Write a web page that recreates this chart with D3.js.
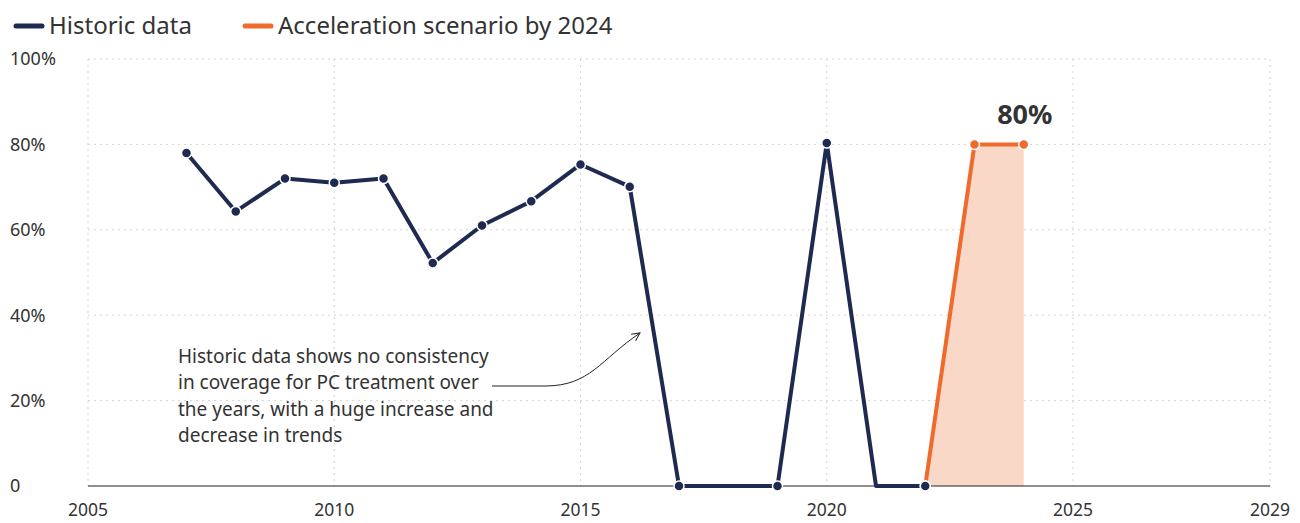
<!DOCTYPE html>
<html>
<head>
<meta charset="utf-8">
<script src="https://cdn.jsdelivr.net/npm/d3@7"></script>
<style>
  body { margin: 0; background: #fff; }
  text { font-family: "Source Sans Pro", "Noto Sans", sans-serif; fill: #333; }
</style>
</head>
<body>
<svg id="chart" width="1300" height="523"></svg>
<script>
// data
const histYears = [2007, 2008, 2009, 2010, 2011, 2012, 2013, 2014, 2015, 2016, 2017, 2019, 2020, 2021, 2022];
const histValues = [78, 64.3, 72, 71, 72, 52.2, 61, 66.7, 75.3, 70.1, 0, 0, 80.3, 0, 0];
const histDotYears = [2007, 2008, 2009, 2010, 2011, 2012, 2013, 2014, 2015, 2016, 2017, 2019, 2020, 2022];
const scenYears = [2022, 2023, 2024];
const scenValues = [0, 80, 80];
const xTicks = [2005, 2010, 2015, 2020, 2025, 2029];
const yTicks = [0, 20, 40, 60, 80, 100];
const noteLines = ["Historic data shows no consistency", "in coverage for PC treatment over", "the years, with a huge increase and", "decrease in trends"];

const navy = "#1f2a50", orange = "#f06a2b", fill = "#fad8c8";

const svg = d3.select("#chart");
const x = d3.scaleLinear().domain([2005, 2029]).range([88, 1270]);
const y = d3.scaleLinear().domain([0, 100]).range([486, 59]);

// grid
const grid = svg.append("g");
grid.selectAll(".hg").data(yTicks.filter(d => d > 0)).enter().append("line")
    .attr("x1", x(2005)).attr("x2", x(2029))
    .attr("y1", d => y(d)).attr("y2", d => y(d))
    .attr("stroke", "#d4d4d4").attr("stroke-dasharray", "2,4");
grid.selectAll(".vg").data(xTicks).enter().append("line")
    .attr("x1", d => x(d)).attr("x2", d => x(d))
    .attr("y1", y(100)).attr("y2", y(0))
    .attr("stroke", "#d4d4d4").attr("stroke-dasharray", "2,4");

// y labels
svg.selectAll(".yl").data(yTicks).enter().append("text")
    .attr("x", 10).attr("y", d => y(d)).attr("dy", "0.35em")
    .style("font-size", "18px")
    .text(d => d === 0 ? "0" : d + "%");

// x labels
svg.selectAll(".xl").data(xTicks).enter().append("text")
    .attr("x", d => x(d)).attr("y", 516)
    .attr("text-anchor", "middle")
    .style("font-size", "17.5px")
    .text(d => d);

// shaded scenario area
svg.append("path")
    .datum(scenYears.map((d, i) => [d, scenValues[i]]))
    .attr("fill", fill)
    .attr("d", d3.area().x(d => x(d[0])).y0(y(0)).y1(d => y(d[1])));

// baseline
svg.append("line").attr("x1", x(2005)).attr("x2", x(2029))
    .attr("y1", y(0)).attr("y2", y(0)).attr("stroke", "#222").attr("stroke-width", 1.2);

const line = d3.line().x(d => x(d[0])).y(d => y(d[1]));

svg.append("path")
    .datum(histYears.map((d, i) => [d, histValues[i]]))
    .attr("fill", "none").attr("stroke", navy).attr("stroke-width", 4)
    .attr("stroke-linejoin", "round")
    .attr("d", line);

svg.append("path")
    .datum(scenYears.map((d, i) => [d, scenValues[i]]))
    .attr("fill", "none").attr("stroke", orange).attr("stroke-width", 4)
    .attr("stroke-linejoin", "round")
    .attr("d", line);

svg.selectAll(".hd").data(histDotYears).enter().append("circle")
    .attr("cx", d => x(d)).attr("cy", d => y(histValues[histYears.indexOf(d)]))
    .attr("r", 5).attr("fill", navy).attr("stroke", "#fff").attr("stroke-width", 1.5);

svg.selectAll(".sd").data(scenYears.slice(1)).enter().append("circle")
    .attr("cx", d => x(d)).attr("cy", (d, i) => y(scenValues[i + 1]))
    .attr("r", 5).attr("fill", orange).attr("stroke", "#fff").attr("stroke-width", 1.5);

// draw the 2022 dot on top again
svg.append("circle").attr("cx", x(2022)).attr("cy", y(0))
    .attr("r", 5).attr("fill", navy).attr("stroke", "#fff").attr("stroke-width", 1.5);

svg.append("text").attr("x", x(2024) + 1).attr("y", 124)
    .attr("text-anchor", "middle")
    .style("font-size", "27px").style("font-weight", "bold")
    .text("80%");

// annotation
svg.append("text").attr("x", 178).attr("y", 356)
    .style("font-size", "19px")
    .selectAll("tspan").data(noteLines).enter().append("tspan")
    .attr("x", 178).attr("dy", (d, i) => i === 0 ? "0.35em" : "1.4em")
    .text(d => d);

svg.append("defs").append("marker")
    .attr("id", "arr").attr("viewBox", "0 0 10 10").attr("refX", 9).attr("refY", 5)
    .attr("markerWidth", 10).attr("markerHeight", 10).attr("orient", "auto")
    .append("path").attr("d", "M1,1 L9,5 L1,9").attr("fill", "none").attr("stroke", "#222").attr("stroke-width", 1);

svg.append("path")
    .attr("d", "M492,386 L545,386 C590,386 600,360 640,333")
    .attr("fill", "none").attr("stroke", "#222").attr("stroke-width", 1)
    .attr("marker-end", "url(#arr)");

// legend
const legend = [["Historic data", navy, 16], ["Acceleration scenario by 2024", orange, 245]];
const lg = svg.selectAll(".lg").data(legend).enter().append("g")
    .attr("transform", d => `translate(${d[2]},26)`);
lg.append("line").attr("x1", 0).attr("x2", 26).attr("stroke", d => d[1])
    .attr("stroke-width", 5).attr("stroke-linecap", "round");
lg.append("text").attr("x", 33).attr("dy", "0.35em")
    .style("font-size", "24px").text(d => d[0]);
</script>
</body>
</html>
